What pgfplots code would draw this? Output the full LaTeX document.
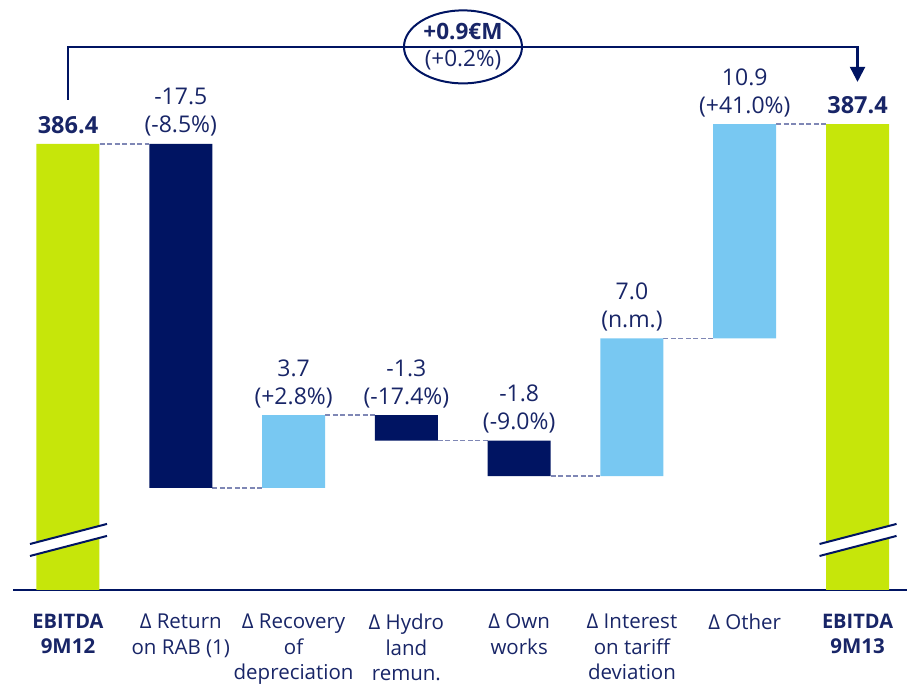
\documentclass[border=0pt]{standalone}
\usepackage{fontspec}
\setmainfont{Open Sans}
\usepackage{pgfplots}
\pgfplotsset{compat=1.18}
\usetikzlibrary{arrows.meta,shapes.geometric}
\definecolor{ebgreen}{HTML}{C6E60A}
\definecolor{ebnavy}{HTML}{001462}
\definecolor{eblight}{HTML}{78C8F2}
\definecolor{ebtext}{HTML}{182567}
\definecolor{ebdash}{HTML}{7F87B5}
\tikzset{lbl/.style={anchor=south, inner sep=0pt, yshift=7pt, align=center,
        text=ebtext, font=\fontsize{23}{28}\selectfont}}

\begin{document}
\begin{tikzpicture}
\path[use as bounding box] (0,0) rectangle (907pt,684pt);
\begin{axis}[
    at={(13pt,94pt)}, anchor=south west,
    scale only axis, width=894pt, height=590pt,
    xmin=-0.4876, xmax=7.4386, ymin=363.71, ymax=393.72,
    ybar stacked, bar width=63pt,
    axis x line=bottom, axis y line=none,
    x axis line style={-, draw=ebnavy, line width=1.8pt},
    xtick={0,...,7}, ytick=\empty, major tick length=0pt,
    xticklabels={
        {\fontsize{20}{25.5}\selectfont\textbf{EBITDA}\\\textbf{9M12}},
        {Δ Return\\on RAB (1)},
        {Δ Recovery\\of\\depreciation},
        {Δ Hydro\\land\\remun.},
        {Δ Own\\works},
        {Δ Interest\\on tariff\\deviation},
        {Δ Other},
        {\fontsize{20}{25.5}\selectfont\textbf{EBITDA}\\\textbf{9M13}}},
    xticklabel style={font=\fontsize{20.5}{25.5}\selectfont, text=ebtext,
        align=center, anchor=north, inner sep=0pt, yshift=-24pt},
    clip mode=individual,
    conn/.style={ebdash, line width=1.6pt, dash pattern=on 5pt off 2.5pt,
        stack plots=false, sharp plot, forget plot},
]
% invisible base of the floating bars
\addplot[draw=none, fill=none] coordinates {
    (0,0) (1,368.9) (2,368.9) (3,371.3) (4,369.5) (5,369.5) (6,376.5) (7,0)};
% totals
\addplot[draw=none, fill=ebgreen] coordinates {
    (0,386.4) (1,0) (2,0) (3,0) (4,0) (5,0) (6,0) (7,387.4)};
% decreases
\addplot[draw=none, fill=ebnavy] coordinates {
    (0,0) (1,17.5) (2,0) (3,1.3) (4,1.8) (5,0) (6,0) (7,0)};
% increases
\addplot[draw=none, fill=eblight] coordinates {
    (0,0) (1,0) (2,3.7) (3,0) (4,0) (5,7.0) (6,10.9) (7,0)};

% connectors between bars
\addplot[conn] coordinates {(0.2793,386.4) (0.7207,386.4)};
\addplot[conn] coordinates {(1.2793,368.9) (1.7207,368.9)};
\addplot[conn] coordinates {(2.2793,372.6) (2.7207,372.6)};
\addplot[conn] coordinates {(3.2793,371.3) (3.7207,371.3)};
\addplot[conn] coordinates {(4.2793,369.5) (4.7207,369.5)};
\addplot[conn] coordinates {(5.2793,376.5) (5.7207,376.5)};
\addplot[conn] coordinates {(6.2793,387.4) (6.7207,387.4)};

% value labels
\node[lbl, yshift=3pt, font=\fontsize{23.5}{28}\selectfont] at (axis cs:0,386.4) {\textbf{386.4}};
\node[lbl] at (axis cs:1,386.4) {-17.5\\(-8.5\%)};
\node[lbl] at (axis cs:2,372.6) {3.7\\(+2.8\%)};
\node[lbl] at (axis cs:3,372.6) {-1.3\\(-17.4\%)};
\node[lbl] at (axis cs:4,371.3) {-1.8\\(-9.0\%)};
\node[lbl] at (axis cs:5,376.5) {7.0\\(n.m.)};
\node[lbl] at (axis cs:6,387.4) {10.9\\(+41.0\%)};
\node[lbl, yshift=3pt, font=\fontsize{23.5}{28}\selectfont] at (axis cs:7,387.4) {\textbf{387.4}};

% corners of the axis break marks
\coordinate (a1) at (axis cs:-0.3369,366.05);
\coordinate (a2) at (axis cs:0.3458,367.07);
\coordinate (a3) at (axis cs:0.3458,366.46);
\coordinate (a4) at (axis cs:-0.3369,365.44);
\coordinate (b1) at (axis cs:6.6631,366.05);
\coordinate (b2) at (axis cs:7.3458,367.07);
\coordinate (b3) at (axis cs:7.3458,366.46);
\coordinate (b4) at (axis cs:6.6631,365.44);

% overall change bracket
\draw[ebnavy, line width=2.2pt, -{Triangle[length=15pt,width=15pt]}]
    (axis cs:0,388.64) |- (axis cs:7,391.33) -- (axis cs:7,389.55);
\node[ellipse, draw=ebnavy, fill=white, line width=2pt, minimum width=118pt,
    minimum height=73pt, inner sep=0pt, align=center, text=ebtext,
    font=\fontsize{22.5}{27}\selectfont] at (axis cs:3.502,391.33)
    {\textbf{+0.9€M}\\(+0.2\%)};
\end{axis}
% axis break marks, drawn over the total bars
\fill[white] (a1) -- (a2) -- (a3) -- (a4) -- cycle;
\draw[ebnavy, line width=2pt] (a1) -- (a2) (a4) -- (a3);
\fill[white] (b1) -- (b2) -- (b3) -- (b4) -- cycle;
\draw[ebnavy, line width=2pt] (b1) -- (b2) (b4) -- (b3);
\end{tikzpicture}
\end{document}
